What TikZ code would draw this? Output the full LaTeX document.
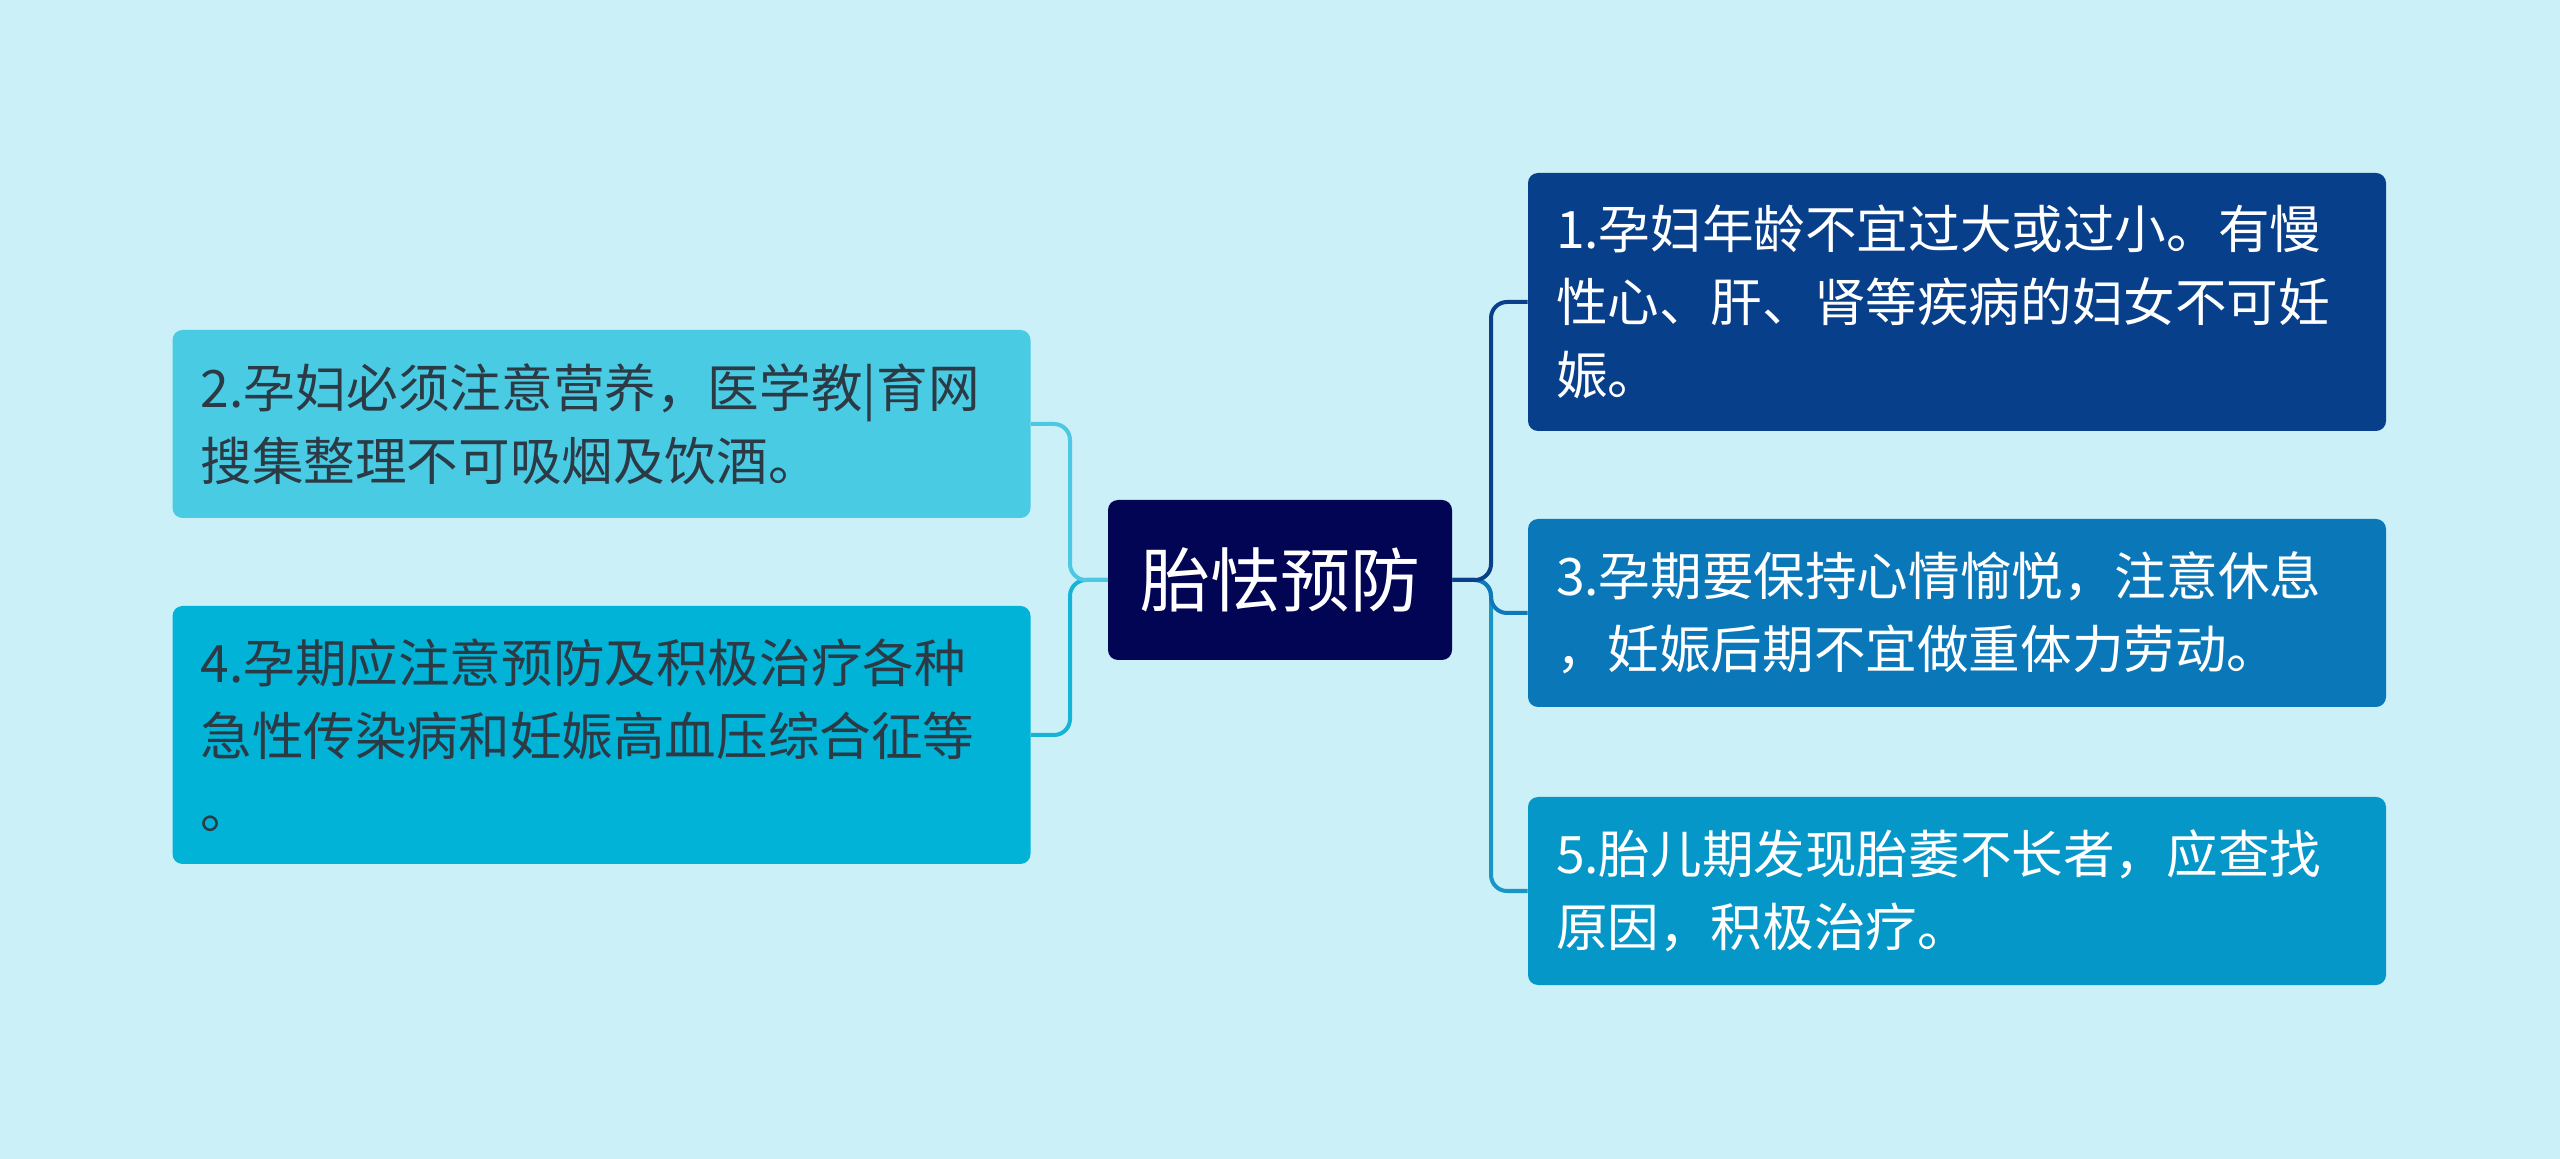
\documentclass[tikz,border=0pt]{standalone}
\usepackage{fontspec}
\setmainfont{Noto Sans CJK SC}
\definecolor{bg}{HTML}{CBF0F7}
\definecolor{cmain}{HTML}{020553}
\definecolor{cone}{HTML}{083F8A}
\definecolor{cthree}{HTML}{0A77B9}
\definecolor{cfive}{HTML}{0497C8}
\definecolor{ctwo}{HTML}{4ACBE4}
\definecolor{cfour}{HTML}{00B3D7}
\definecolor{ltwo}{HTML}{4CC8E2}
\definecolor{lfour}{HTML}{15B4D6}
\definecolor{lone}{HTML}{0B3F8A}
\definecolor{lthree}{HTML}{0E78BA}
\definecolor{lfive}{HTML}{1A96C6}
\definecolor{darktext}{HTML}{2B3A44}
\begin{document}
\begin{tikzpicture}[x=0.5pt,y=-0.5pt,
  box/.style={rounded corners=5pt, minimum width=429pt, text width=401pt, align=left,
    inner sep=0pt, font=\fontsize{25.8pt}{36.5pt}\selectfont},
  mainbox/.style={rounded corners=5pt, fill=cmain, text=white, minimum width=172pt,
    minimum height=80pt, inner sep=0pt, font=\fontsize{35pt}{40pt}\selectfont},
  link/.style={line width=2pt, rounded corners=8pt}]
\fill[bg] (0,0) rectangle (2560,1159);
\useasboundingbox (0,0) rectangle (2560,1159);

\node[mainbox] (c) at (1280,580) {胎怯预防};

\node[box, fill=cone, text=white, minimum height=129pt] (b1) at (1957,302)
  {1.孕妇年龄不宜过大或过小。有慢\\性心、肝、肾等疾病的妇女不可妊\\娠。};
\node[box, fill=cthree, text=white, minimum height=94pt] (b3) at (1957,613)
  {3.孕期要保持心情愉悦，注意休息\\，妊娠后期不宜做重体力劳动。};
\node[box, fill=cfive, text=white, minimum height=94pt] (b5) at (1957,891)
  {5.胎儿期发现胎萎不长者，应查找\\原因，积极治疗。};
\node[box, fill=ctwo, text=darktext, minimum height=94pt] (b2) at (601.5,424)
  {2.孕妇必须注意营养，医学教|育网\\搜集整理不可吸烟及饮酒。};
\node[box, fill=cfour, text=darktext, minimum height=129pt] (b4) at (601.5,735)
  {4.孕期应注意预防及积极治疗各种\\急性传染病和妊娠高血压综合征等\\。};

\coordinate (rt) at (1491,580);
\coordinate (lt) at (1070,580);

\draw[link, lfive] (c.east) -- (rt) |- (b5.west);
\draw[link, lthree] (c.east) -- (rt) |- (b3.west);
\draw[link, lone] (c.east) -- (rt) |- (b1.west);
\draw[link, lfour] (c.west) -- (lt) |- (b4.east);
\draw[link, ltwo] (c.west) -- (lt) |- (b2.east);
\end{tikzpicture}
\end{document}
